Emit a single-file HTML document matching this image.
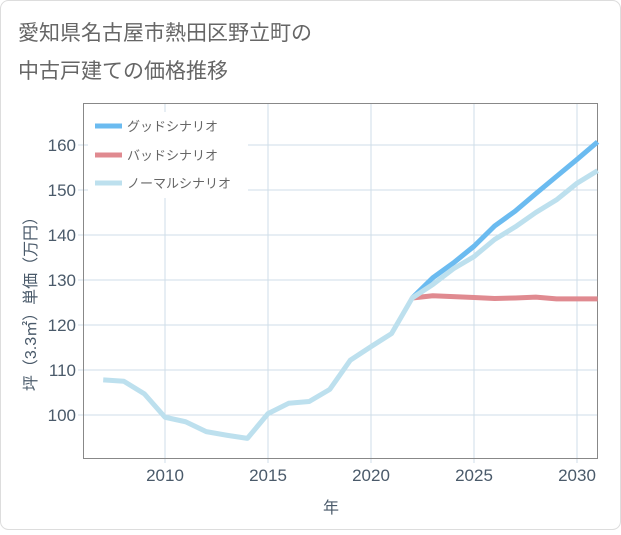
<!DOCTYPE html>
<html><head><meta charset="utf-8"><style>
body{margin:0;background:#fff;font-family:"Liberation Sans","Noto Sans CJK JP",sans-serif;}
</style></head><body>
<svg width="621" height="530" xmlns="http://www.w3.org/2000/svg">
<rect x="0.5" y="0.5" width="620" height="529" rx="8" fill="#fff" stroke="#ddd"/>
<text x="18" y="40" font-size="21" fill="#666">愛知県名古屋市熱田区野立町の</text>
<text x="18" y="78" font-size="21" fill="#666">中古戸建ての価格推移</text>
<g id="grid"></g>
<rect x="83.5" y="103.5" width="514" height="355" fill="none" stroke="#888"/>
<g id="axes"></g>
<g id="lines"></g>
<g id="legend">
<rect x="88" y="112" width="160" height="86" fill="#fff"/>
<line x1="95" y1="126" x2="122" y2="126" stroke="#6bbbf0" stroke-width="5"/>
<text x="127" y="131" font-size="13" fill="#666">グッドシナリオ</text>
<line x1="95" y1="155" x2="122" y2="155" stroke="#e08a90" stroke-width="5"/>
<text x="127" y="160" font-size="13" fill="#666">バッドシナリオ</text>
<line x1="95" y1="183" x2="122" y2="183" stroke="#bde0ee" stroke-width="5"/>
<text x="127" y="188" font-size="13" fill="#666">ノーマルシナリオ</text>
</g>
<text x="331" y="513" font-size="16" fill="#4a5a6a" text-anchor="middle">年</text>
<text transform="translate(36,300) rotate(-90)" font-size="16" fill="#4a5a6a" text-anchor="middle">坪（3.3㎡）単価（万円）</text>
</svg>
<script>
const years=[2007,2008,2009,2010,2011,2012,2013,2014,2015,2016,2017,2018,2019,2020,2021,2022,2023,2024,2025,2026,2027,2028,2029,2030,2031];
const normal=[107.8,107.5,104.7,99.5,98.5,96.3,95.5,94.8,100.3,102.6,103,105.7,112.2,115.2,118.1,126,129,132.5,135.2,139,141.8,145,147.8,151.5,154.3];
const goodYears=[2022,2023,2024,2025,2026,2027,2028,2029,2030,2031];
const good=[126,130.5,133.8,137.5,142,145.3,149.2,153,156.8,160.7];
const bad=[126,126.5,126.3,126.1,125.9,126,126.2,125.8,125.8,125.8];
const xTicks=[2010,2015,2020,2025,2030];
const yTicks=[100,110,120,130,140,150,160];
const NS="http://www.w3.org/2000/svg";
const X=y=>165+(y-2010)*20.6, Y=v=>415-(v-100)*4.5;
function mk(t,a,p){const e=document.createElementNS(NS,t);for(const k in a)e.setAttribute(k,a[k]);document.getElementById(p).appendChild(e);return e;}
xTicks.forEach(t=>{
 const l=mk('line',{x1:X(t),x2:X(t),y1:103,y2:463,stroke:'#cfdde8'},'grid');
 
 
 const s=mk('text',{x:X(t),y:481,'font-size':17,fill:'#4a5a6a','text-anchor':'middle'},'axes');s.textContent=t;
 
 
});
yTicks.forEach(t=>{
 const l=mk('line',{x1:78,x2:597,y1:Y(t),y2:Y(t),stroke:'#cfdde8'},'grid');
 
 
 const s=mk('text',{x:76,y:Y(t)+6,'font-size':17,fill:'#4a5a6a','text-anchor':'end'},'axes');s.textContent=t;
 
 
});
function line(xs,vs,c,n){
 const p=mk('polyline',{points:xs.map((y,i)=>X(y)+','+Y(vs[i])).join(' '),fill:'none',stroke:c,'stroke-width':5,'stroke-linejoin':'round'},'lines');
 
 
}
line(goodYears,bad,'#e08a90','bad-line');
line(goodYears,good,'#6bbbf0','good-line');
line(years,normal,'#bde0ee','normal-line');
</script>
</body></html>
